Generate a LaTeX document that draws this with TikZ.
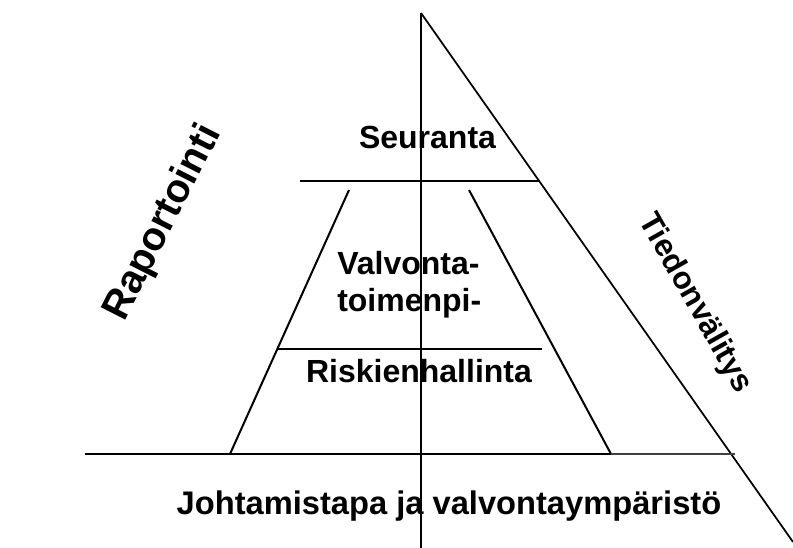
\documentclass[tikz,border=0pt]{standalone}
\usepackage{fontspec}
\setmainfont{Liberation Sans}
\begin{document}
\begin{tikzpicture}[x=0.75pt,y=-0.75pt,
  ln/.style={line width=1.5pt,black},
  thin/.style={line width=1.1pt,black!75},
  lbl/.style={font=\bfseries\fontsize{24}{28}\selectfont,inner sep=0pt,anchor=base},
  lblw/.style={font=\bfseries\fontsize{24}{28}\selectfont,inner sep=0pt,anchor=base west}]
\useasboundingbox (0,0) rectangle (793,548);
% coordinates
\coordinate (top) at (421,13);
\coordinate (vbot) at (421,548);
\coordinate (dend) at (793,542);
\coordinate (sL) at (300,181);
\coordinate (sR) at (540,181);
\coordinate (lt) at (349,190);
\coordinate (lb) at (230,454);
\coordinate (rt) at (469,190);
\coordinate (rb) at (611,454);
\coordinate (mL) at (277,349);
\coordinate (mR) at (542,349);
\coordinate (bL) at (85,454);
\coordinate (bR) at (735,454);
% lines
\draw[ln] (top) -- (vbot);
\draw[ln,line width=1.3pt] (top) -- (dend);
\draw[ln] (sL) -- (sR);
\draw[ln] (lt) -- (lb);
\draw[ln] (rt) -- (rb);
\draw[ln] (mL) -- (mR);
\draw[ln] (bL) -- (rb);
\draw[thin] (rb) -- (bR);
% labels
\node[lbl] (seur) at (427.5,149) {Seuranta};
\node[lblw] (valv) at (337,275) {Valvonta-};
\node[lblw] (toim) at (337,312) {toimenpi-};
\node[lbl] (risk) at (419,383) {Riskienhallinta};
\node[lbl,font=\bfseries\fontsize{24.5}{28}\selectfont] (joht) at (449,515) {Johtamistapa ja valvontaympäristö};
\node[font=\bfseries\fontsize{30}{34}\selectfont,inner sep=0pt,rotate=63] (rap) at (163.5,223) {Raportointi};
\node[font=\bfseries\fontsize{23.5}{27}\selectfont,inner sep=0pt,rotate=-60.5] (tied) at (695,303.5) {Tiedonvälitys};
\end{tikzpicture}
\end{document}
